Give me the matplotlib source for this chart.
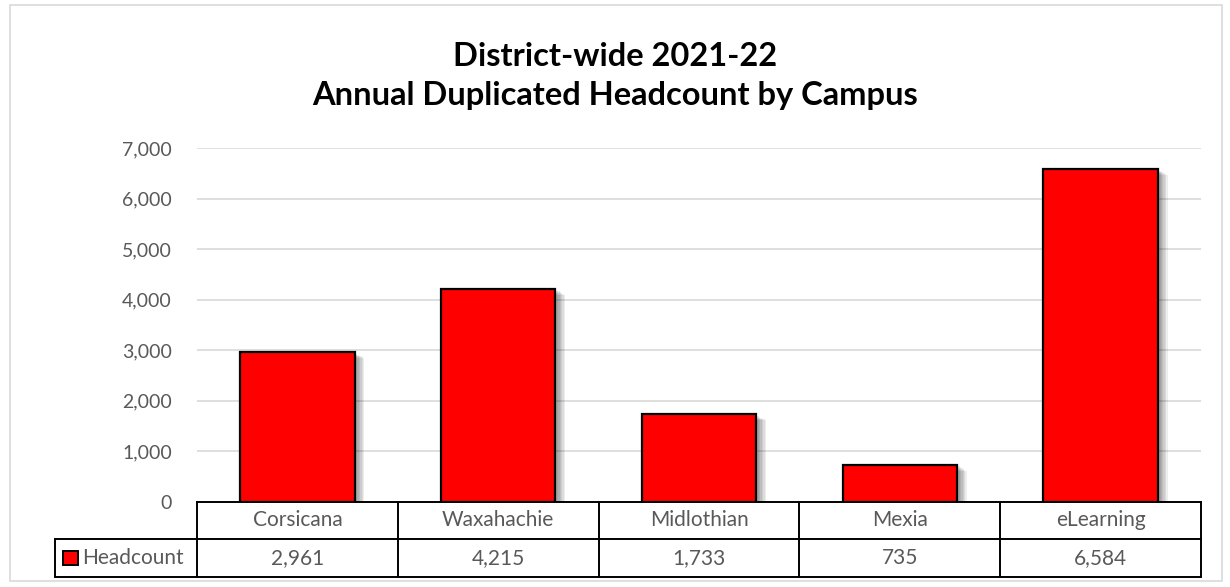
import numpy as np
import matplotlib.pyplot as plt
import matplotlib.patheffects as pe
from matplotlib.transforms import blended_transform_factory

campuses = ['Corsicana', 'Waxahachie', 'Midlothian', 'Mexia', 'eLearning']
headcount = [2961, 4215, 1733, 735, 6584]
series_name = 'Headcount'
title = 'District-wide 2021-22\nAnnual Duplicated Headcount by Campus'
yticks = [0, 1000, 2000, 3000, 4000, 5000, 6000, 7000]

plt.rcParams['font.family'] = ['Lato', 'DejaVu Sans']

fig = plt.figure(figsize=(12.3, 5.87), dpi=100)
ax = fig.add_axes([197 / 1230, 85 / 587, 1004 / 1230, 354 / 587])

# chart border
fig.patches.append(plt.Rectangle((10 / 1230, 6 / 587), 1212 / 1230, 576 / 587,
                                 transform=fig.transFigure, fill=False,
                                 edgecolor='#d9d9d9', linewidth=1.2))

x = np.arange(len(campuses))
shadow = [pe.SimplePatchShadow(offset=(d, -d * 0.6), shadow_rgbFace='black', alpha=0.07)
          for d in (7, 6, 5, 4, 3, 2)]
bars = ax.bar(x, headcount, width=0.57, color='#ff0000', edgecolor='black', linewidth=1.6,
              zorder=3)
for b in bars:
    b.set_path_effects(shadow + [pe.Normal()])

ax.set_xlim(-0.5, len(campuses) - 0.5)
ax.set_ylim(0, 7000)
ax.set_yticks(yticks)
ax.set_yticklabels([f'{v:,}' for v in yticks], color='#595959', fontsize=14)
ax.tick_params(axis='y', length=0, pad=18)
ax.set_xticks([])
ax.grid(axis='y', color='#d9d9d9', linewidth=1.2, zorder=0)
for s in ax.spines.values():
    s.set_visible(False)

fig.text(0.5, 1 - 76 / 587, title, ha='center', va='center', fontsize=23.5,
         fontweight='bold', linespacing=1.45, color='black')

# data table below the plot
tr = blended_transform_factory(ax.transData, ax.transAxes)
row1 = -37 / 354
row2 = -75 / 354
left_leg = -0.5 - 142 / 201
right = len(campuses) - 0.5
kw = dict(transform=tr, clip_on=False, color='black', linewidth=1.4)
ax.plot([-0.5, right], [0, 0], **kw)
ax.plot([left_leg, left_leg], [row1, row2], **kw)
ax.plot([left_leg, right], [row1, row1], **kw)
ax.plot([left_leg, right], [row2, row2], **kw)
for i in range(len(campuses) + 1):
    ax.plot([i - 0.5, i - 0.5], [0, row2], **kw)

for i, (c, v) in enumerate(zip(campuses, headcount)):
    ax.text(i, row1 / 2, c, transform=tr, ha='center', va='center', fontsize=15,
            color='#595959')
    ax.text(i, (row1 + row2) / 2, f'{v:,}', transform=tr, ha='center', va='center',
            fontsize=15, color='#595959')

# legend key in table
ax.add_patch(plt.Rectangle((left_leg + 0.04, (row1 + row2) / 2 - 0.021), 0.075, 0.042,
                           transform=tr, clip_on=False, facecolor='#ff0000',
                           edgecolor='black', linewidth=1.4))
ax.text(left_leg + 0.135, (row1 + row2) / 2, series_name, transform=tr, ha='left',
        va='center', fontsize=15, color='#595959')

fig.savefig('out.png', dpi=100)
